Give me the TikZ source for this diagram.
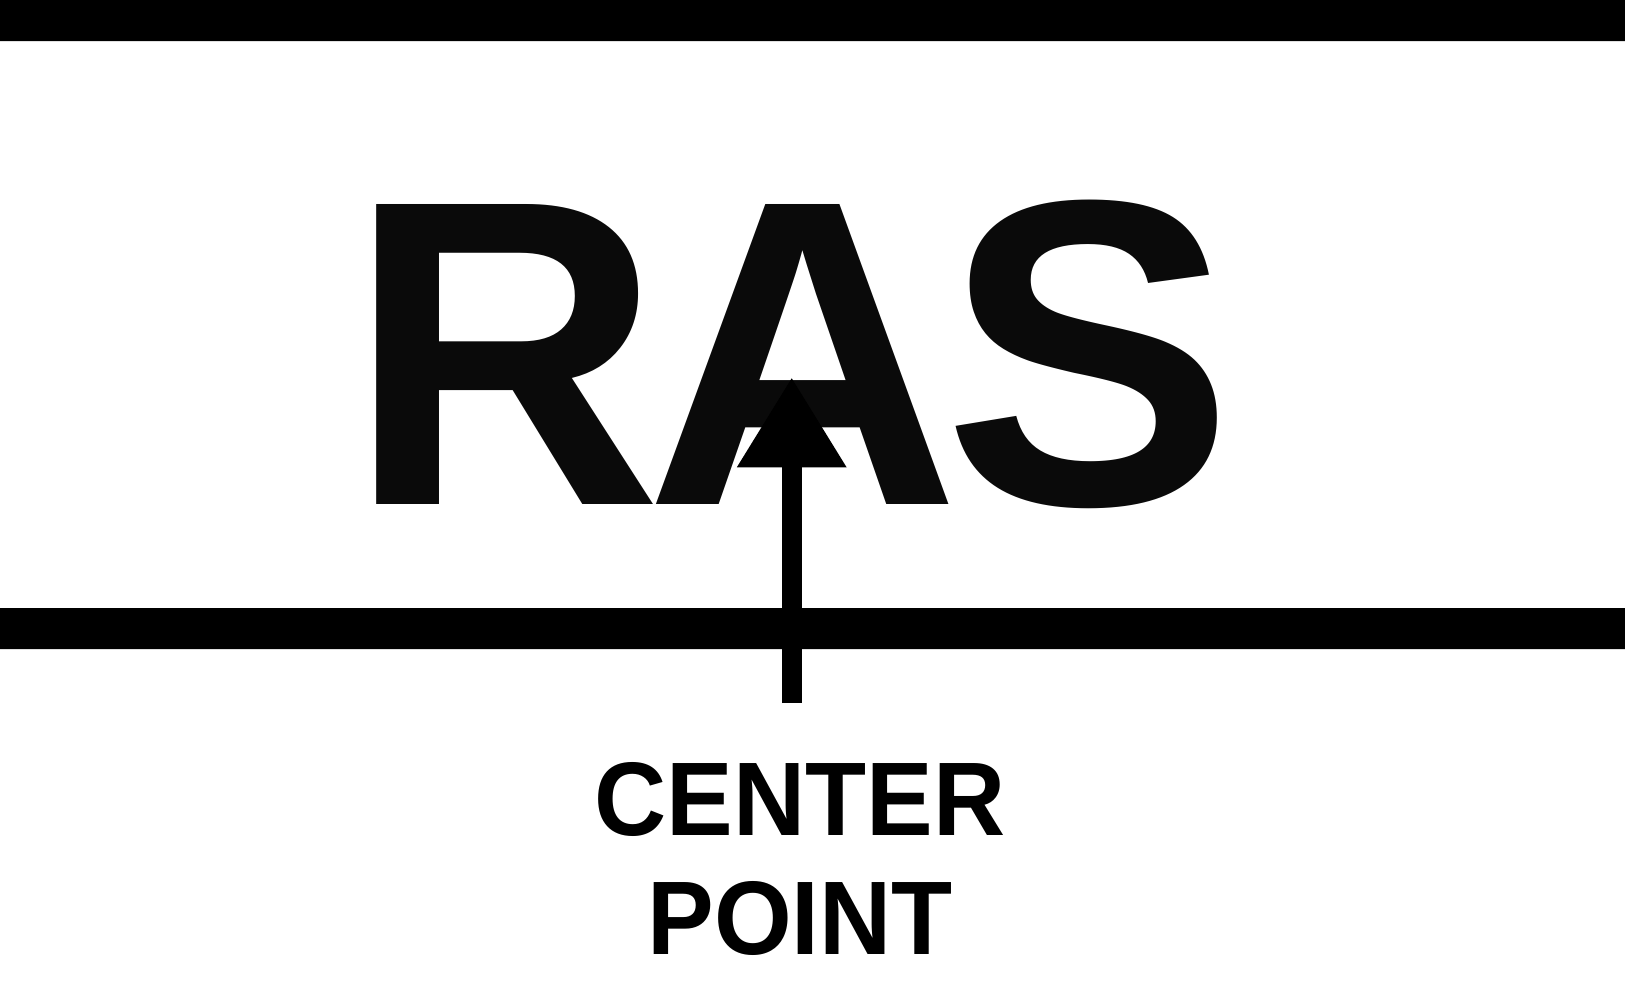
\documentclass[tikz,border=0pt]{standalone}
\usepackage{fontspec}
\setmainfont{Liberation Sans}
\newfontfamily\capfont[FakeStretch=0.955]{Liberation Sans}
\usepackage{tikz}
\usetikzlibrary{arrows.meta}
\definecolor{rasblack}{HTML}{0A0A0A}
\tikzset{
  bar/.style={fill=black},
  bigword/.style={anchor=base,inner sep=0pt,text=rasblack,font=\fontsize{124pt}{126pt}\selectfont\bfseries},
  caption/.style={anchor=base,inner sep=0pt,font=\capfont\fontsize{29.75pt}{34pt}\selectfont\bfseries},
  pointer/.style={line width=0.2cm,-{Triangle[length=0.9cm,width=1.04cm]}}
}
\begin{document}
\begin{tikzpicture}[x=0.01cm,y=-0.01cm]
\useasboundingbox (0,0) rectangle (1625,993);
\fill[bar] (0,0) rectangle (1625,41) (0,608) rectangle (1625,649);
\node[bigword] (ras) at (791,504.7) {R\kern-0.17cm A\kern-0.17cm S};
\node[caption] (center) at (800,835.3) {CENTER};
\node[caption] (point) at (800,954.5) {POINT};
\coordinate (tail) at (791.7,703);
\coordinate (ctr) at (791.7,377.3);
\draw[pointer] (tail) -- (ctr);
\end{tikzpicture}
\end{document}
